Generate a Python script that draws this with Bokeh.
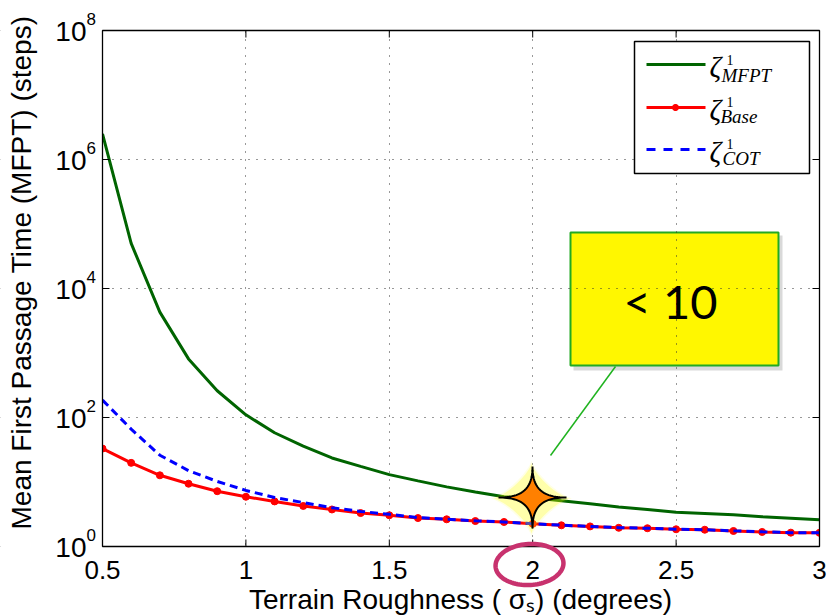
import math
from bokeh.plotting import figure
from bokeh.models import (Range1d, FixedTicker, Label, BoxAnnotation, PolyAnnotation, Arrow)
from bokeh.embed import file_html
from bokeh.resources import INLINE

# ---------------- data ----------------
roughness = [0.5, 0.6, 0.7, 0.8, 0.9, 1.0, 1.1, 1.2, 1.3, 1.4, 1.5, 1.6, 1.7,
             1.8, 1.9, 2.0, 2.1, 2.2, 2.3, 2.4, 2.5, 2.6, 2.7, 2.8, 2.9, 3.0]
mfpt_zeta = [2.5e6, 5.0e4, 4.3e3, 8.1e2, 2.6e2, 110, 58, 36, 23.6, 17.5, 13.0, 10.4, 8.4,
             7.0, 5.9, 5.7, 5.1, 4.6, 4.1, 3.75, 3.4, 3.25, 3.1, 2.9, 2.75, 2.6]
base_zeta = [33, 19.8, 12.7, 9.4, 7.2, 5.9, 5.0, 4.25, 3.75, 3.3, 3.05, 2.76, 2.64,
             2.48, 2.4, 2.25, 2.13, 2.05, 1.95, 1.92, 1.85, 1.82, 1.74, 1.68, 1.64, 1.63]
cot_zeta = [186, 66, 26, 15, 10.2, 7.4, 5.75, 4.8, 4.0, 3.5, 3.15, 2.8, 2.66,
            2.5, 2.4, 2.26, 2.14, 2.05, 1.96, 1.92, 1.85, 1.82, 1.75, 1.69, 1.64, 1.63]

x_limits = [0.5, 3.0]
y_limits = [1.0, 1e8]
x_ticks = [0.5, 1.0, 1.5, 2.0, 2.5, 3.0]
x_tick_labels = ["0.5", "1", "1.5", "2", "2.5", "3"]
y_ticks = [1, 1e2, 1e4, 1e6, 1e8]
y_tick_base = "10"
y_tick_exponents = ["0", "2", "4", "6", "8"]
x_title = "Terrain Roughness ( σₛ) (degrees)"
y_title = "Mean First Passage Time (MFPT) (steps)"
series_symbol = "ζ"
series_superscript = "1"
series_subscripts = ["MFPT", "Base", "COT"]
series_colors = ["#006400", "#ff0000", "#0000ff"]
callout_text = "< 10"

# ---------------- layout (canvas pixels) ----------------
W, H = 827, 616
PL, PR, PT, PB = 102, 819, 30, 546   # plot box edges
kx = (PR - PL) / (x_limits[1] - x_limits[0])                  # px per x unit
ky = (PB - PT) / math.log10(y_limits[1] / y_limits[0])        # px per decade
x_range = Range1d(x_limits[0] - PL / kx, x_limits[1] + (W - PR) / kx)
y_range = Range1d(y_limits[0] * 10 ** (-(H - PB) / ky), y_limits[1] * 10 ** (PT / ky))


def sx(X):
    return X


def sy(Y):
    return H - Y


p = figure(width=W, height=H, x_range=x_range, y_range=y_range, y_axis_type="log",
           x_axis_location=None, y_axis_location=None, output_backend="svg",
           toolbar_location=None, min_border=0, min_border_left=0, min_border_right=0,
           min_border_top=0, min_border_bottom=0, outline_line_color=None,
           background_fill_color="white", border_fill_color="white")

FONT = "Liberation Sans"

# grid
p.xgrid.ticker = FixedTicker(ticks=x_ticks)
p.ygrid.ticker = FixedTicker(ticks=y_ticks)
for g in (p.xgrid[0], p.ygrid[0]):
    g.grid_line_color = "#333333"
    g.grid_line_dash = "1 7"
    g.grid_line_width = 1
    g.minor_grid_line_color = None

# ---------------- callout box (behind grid) ----------------
p.add_layout(BoxAnnotation(left=sx(573), right=sx(782), top=sy(235), bottom=sy(370),
                           left_units="screen", right_units="screen", top_units="screen",
                           bottom_units="screen", fill_color="black", fill_alpha=0.15,
                           line_color=None, level="image"))
p.add_layout(BoxAnnotation(left=sx(570), right=sx(778), top=sy(232), bottom=sy(365),
                           left_units="screen", right_units="screen", top_units="screen",
                           bottom_units="screen", fill_color="#fff700", fill_alpha=1,
                           line_color="#22aa22", line_alpha=1, line_width=2, level="image"))

# ---------------- data lines ----------------
g_r = p.line(roughness, mfpt_zeta, line_color=series_colors[0], line_width=3)
b_r = p.line(roughness, base_zeta, line_color=series_colors[1], line_width=3)
b_s = p.scatter(roughness, base_zeta, size=7, color=series_colors[1])
c_r = p.line(roughness, cot_zeta, line_color=series_colors[2], line_width=3, line_dash="8 5")

# ---------------- axes box, ticks (inward) ----------------
tick_len = 7
up = 10 ** (tick_len / ky)
p.segment(x0=x_ticks, y0=[y_limits[0]] * len(x_ticks), x1=x_ticks,
          y1=[y_limits[0] * up] * len(x_ticks), line_color="black", line_width=1)
p.segment(x0=x_ticks, y0=[y_limits[1]] * len(x_ticks), x1=x_ticks,
          y1=[y_limits[1] / up] * len(x_ticks), line_color="black", line_width=1)
p.segment(x0=[x_limits[0]] * len(y_ticks), y0=y_ticks,
          x1=[x_limits[0] + tick_len / kx] * len(y_ticks), y1=y_ticks,
          line_color="black", line_width=1)
p.segment(x0=[x_limits[1]] * len(y_ticks), y0=y_ticks,
          x1=[x_limits[1] - tick_len / kx] * len(y_ticks), y1=y_ticks,
          line_color="black", line_width=1)

# white margins outside the plot box (hide grid there)
for kw in (dict(bottom=sy(PT)), dict(top=sy(PB)), dict(right=sx(PL)), dict(left=sx(PR))):
    units = {k + "_units": "screen" for k in kw}
    p.add_layout(BoxAnnotation(fill_color="white", fill_alpha=1, line_color=None,
                               **kw, **units))
p.add_layout(BoxAnnotation(left=sx(PL), right=sx(PR), top=sy(PT), bottom=sy(PB),
                           left_units="screen", right_units="screen", top_units="screen",
                           bottom_units="screen", fill_color=None, line_color="black",
                           line_alpha=1, line_width=1.3))

# tick labels
for t, lab in zip(x_ticks, x_tick_labels):
    p.add_layout(Label(x=t, y=sy(569), x_units="data", y_units="screen", text=lab,
                       text_font=FONT, text_font_size="26px", text_align="center",
                       text_baseline="middle", text_color="black"))
for t, ex in zip(y_ticks, y_tick_exponents):
    p.add_layout(Label(x=sx(86), y=t, x_units="screen", y_units="data", y_offset=-1,
                       text=y_tick_base, text_font=FONT, text_font_size="28px",
                       text_align="right", text_baseline="middle", text_color="black"))
    p.add_layout(Label(x=sx(86), y=t, x_units="screen", y_units="data", y_offset=12,
                       text=ex, text_font=FONT, text_font_size="17px",
                       text_align="left", text_baseline="middle", text_color="black"))

# axis titles
p.add_layout(Label(x=sx(460), y=sy(599), x_units="screen", y_units="screen", text=x_title,
                   text_font=FONT, text_font_size="28px", text_align="center",
                   text_baseline="middle", text_color="black"))
p.add_layout(Label(x=sx(21), y=sy(272), x_units="screen", y_units="screen", text=y_title,
                   angle=math.pi / 2, text_font=FONT, text_font_size="28px",
                   text_align="center", text_baseline="middle", text_color="black"))

# ---------------- legend (drawn by hand for the math labels) ----------------
p.add_layout(BoxAnnotation(left=sx(634), right=sx(809), top=sy(41), bottom=sy(173),
                           left_units="screen", right_units="screen", top_units="screen",
                           bottom_units="screen", fill_color="white", fill_alpha=1,
                           line_color="black", line_alpha=1, line_width=1.5))
row_mid = [64, 107, 149]
sub_mid = [75, 116, 158]
sup_mid = [59, 101, 143]
sub_x = [721, 720, 722]
dashes = ["solid", "solid", "9 8"]
for i, sub in enumerate(series_subscripts):
    p.add_layout(Arrow(end=None, x_start=sx(646), y_start=sy(row_mid[i]), x_end=sx(705),
                       y_end=sy(row_mid[i]), start_units="screen", end_units="screen",
                       line_color=series_colors[i], line_width=3, line_dash=dashes[i]))
    p.add_layout(Label(x=sx(709), y=sy(row_mid[i] + 2), x_units="screen", y_units="screen",
                       text=series_symbol, text_font="Liberation Serif",
                       text_font_style="italic", text_font_size="29px",
                       text_baseline="middle", text_align="left", text_color="black"))
    p.add_layout(Label(x=sx(726), y=sy(sup_mid[i]), x_units="screen", y_units="screen",
                       text=series_superscript, text_font="Liberation Serif",
                       text_font_size="14px", text_baseline="middle",
                       text_align="left", text_color="black"))
    p.add_layout(Label(x=sx(sub_x[i]), y=sy(sub_mid[i]), x_units="screen", y_units="screen",
                       text=sub, text_font="Liberation Serif", text_font_style="italic",
                       text_font_size="19px", text_baseline="middle",
                       text_align="left", text_color="black"))


def ellipse_pts(cx, cy, rx, ry, n=72, tilt=0.0):
    xs, ys = [], []
    ct, st = math.cos(tilt), math.sin(tilt)
    for k in range(n):
        t = 2 * math.pi * k / n
        ex, ey = rx * math.cos(t), ry * math.sin(t)
        xs.append(sx(cx + ex * ct - ey * st))
        ys.append(sy(cy + ex * st + ey * ct))
    return xs, ys


dx, dy = ellipse_pts(675, 107, 3.5, 3.5)
p.add_layout(PolyAnnotation(xs=dx, ys=dy, xs_units="screen", ys_units="screen",
                            fill_color=series_colors[1], fill_alpha=1, line_color=None))

# ---------------- callout text / pointer ----------------
p.add_layout(Label(x=sx(670), y=sy(300), x_units="screen", y_units="screen", text=callout_text,
                   text_font="Lato", text_font_size="47px", text_align="center",
                   text_baseline="middle", text_color="black"))
p.add_layout(Arrow(end=None, x_start=sx(615), y_start=sy(366), x_end=sx(550), y_end=sy(455),
                   start_units="screen", end_units="screen", line_color="#1fb31f",
                   line_width=1.5))


def star(cx, cy, rx, ry, n=120, pw=4.0):
    xs, ys = [], []
    for k in range(n):
        t = 2 * math.pi * k / n
        c, s = math.cos(t), math.sin(t)
        xs.append(sx(cx + rx * math.copysign(abs(c) ** pw, c)))
        ys.append(sy(cy + ry * math.copysign(abs(s) ** pw, s)))
    return xs, ys


for grow, alpha in ((7, 0.10), (4, 0.25)):
    gx, gy = star(531, 498, 34 + grow, 31 + grow, pw=2.6)
    p.add_layout(PolyAnnotation(xs=gx, ys=gy, xs_units="screen", ys_units="screen",
                                fill_color="#ffff00", fill_alpha=alpha, line_color=None))
stx, sty = star(532, 497, 34, 31, pw=4.2)
p.add_layout(PolyAnnotation(xs=stx, ys=sty, xs_units="screen", ys_units="screen",
                            fill_color="#ff8000", fill_alpha=1, line_color="black",
                            line_alpha=1, line_width=2))

# ---------------- highlight ring around the "2" tick label ----------------
rx_, ry_ = ellipse_pts(529, 564, 34, 20.5, n=96, tilt=-0.06)
p.add_layout(PolyAnnotation(xs=rx_, ys=ry_, xs_units="screen", ys_units="screen",
                            fill_color=None, line_color="#c8326e", line_alpha=1,
                            line_width=4.5))

open("out.html", "w").write(file_html(p, INLINE))
